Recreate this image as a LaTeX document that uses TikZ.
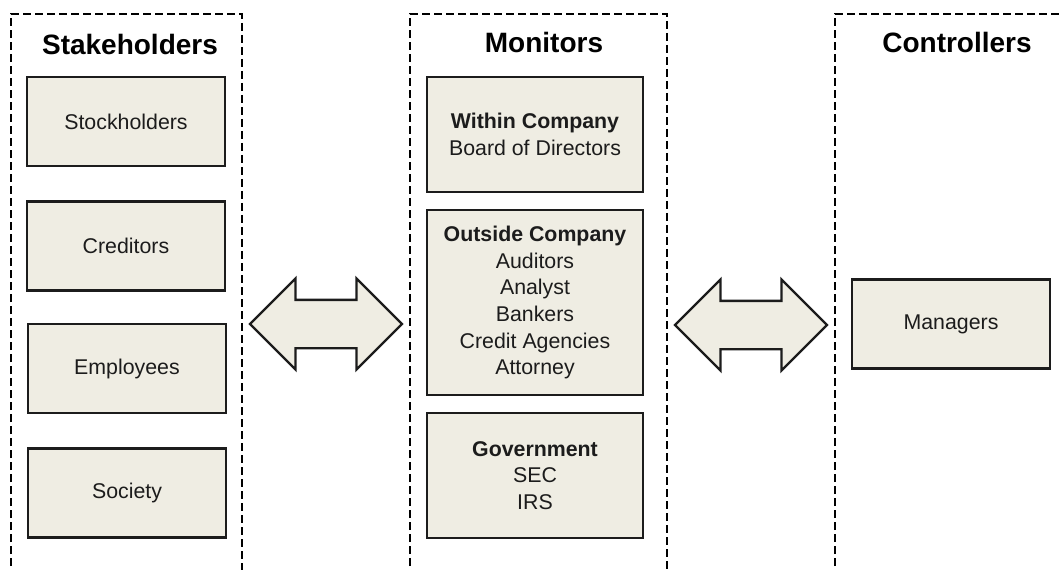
\documentclass[tikz,border=0pt]{standalone}
\usepackage{fontspec}
\setmainfont{Liberation Sans}
\usetikzlibrary{shapes.arrows}
\definecolor{boxfill}{RGB}{239,237,227}
\definecolor{edge}{RGB}{28,28,28}

\begin{document}
\begin{tikzpicture}
[x=0.75pt, y=-0.75pt,
panel/.style={black, line width = 1.8pt, dash pattern=on 6pt off 3pt},
heading/.style={anchor=base, font=\fontsize{21}{25}\selectfont\bfseries},
entry/.style={draw=edge, fill=boxfill, line width = 1.8pt, align=center, text=edge, inner sep=0pt, minimum width=148.5pt, minimum height=66.75pt, font=\fontsize{16}{20}\selectfont},
two way/.style={double arrow, draw=edge, fill=boxfill, line width = 1.8pt, inner xsep=0pt, inner ysep=17.25pt, minimum width=66.75pt, minimum height=114pt, double arrow head extend=16pt}]
\useasboundingbox (0,0) rectangle (1059,570);
\clip (0,0) rectangle (1059,570);
\draw[panel] (11,590) |- (242,14) -- (242,590);
\draw[panel] (410,590) |- (667,14) -- (667,590);
\draw[panel] (835,590) |- (1075,14);
\node[heading] (stake head) at (130,55) {Stakeholders};
\node[heading] (mon head) at (544,53) {Monitors};
\node[heading] (ctrl head) at (957,53) {Controllers};
\node[entry] (stock) at (126,121.5) {Stockholders};
\node[entry] (cred) at (126,246) {Creditors};
\node[entry] (empl) at (127,368.5) {Employees};
\node[entry] (soc) at (127,493) {Society};
\node[entry, minimum width=162pt, minimum height=86.25pt] (within) at (535,134.5) {\textbf{Within Company}\\Board of Directors};
\node[entry, minimum width=162pt, minimum height=138.75pt] (outside) at (535,302.5) {\textbf{Outside Company}\\Auditors\\Analyst\\Bankers\\Credit Agencies\\Attorney};
\node[entry, minimum width=162pt, minimum height=93.75pt] (gov) at (535,475.5) {\textbf{Government}\\SEC\\IRS};
\node[entry] (mgr) at (951,324) {Managers};
\node[two way] (left link) at (326,324) {};
\node[two way] (right link) at (751,325) {};
\end{tikzpicture}
\end{document}
